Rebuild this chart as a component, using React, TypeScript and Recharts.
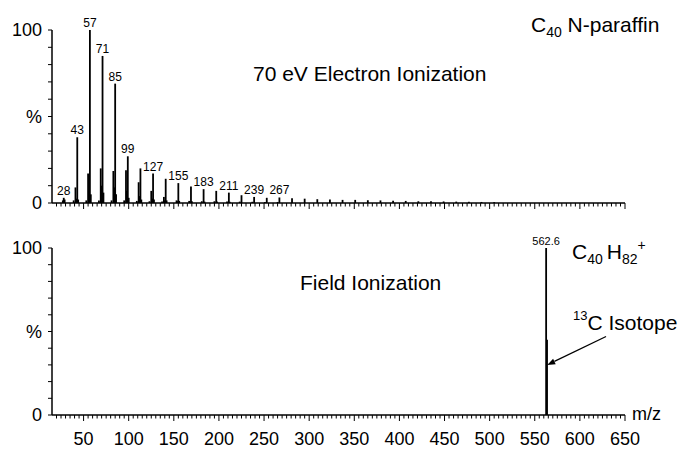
import React from 'react'
import { ComposedChart, Scatter, ErrorBar, XAxis, YAxis, ReferenceLine } from 'recharts'

// 70 eV EI spectrum (m/z, relative intensity %)
const eiMz = [
  27, 28, 29,
  39, 41, 42, 43, 44,
  53, 55, 56, 57, 58,
  67, 69, 70, 71, 72,
  81, 83, 84, 85, 86,
  95, 97, 98, 99, 100,
  109, 111, 112, 113, 114,
  123, 125, 126, 127, 128,
  137, 139, 140, 141, 142,
  153, 154, 155, 156,
  167, 169, 170,
  181, 183, 184,
  195, 197, 198,
  209, 211, 212,
  223, 225,
  237, 239,
  251, 253,
  265, 267,
  281, 295, 309, 323, 337, 351, 365, 379, 393, 407, 421, 435, 449, 463, 477, 491, 505
]
const eiIntensity = [
  1.5, 3, 2,
  1.5, 9, 2.5, 38, 2,
  1.5, 17, 7, 100, 5,
  1.5, 20, 10, 85, 6,
  1.5, 18.5, 9, 69, 5,
  1.5, 19, 7, 27, 3,
  1.2, 12, 4, 20, 2,
  1, 7, 2.5, 17, 2,
  0.8, 3.5, 1.5, 14, 1.5,
  1.5, 1, 11.5, 1.2,
  1.2, 9.5, 1,
  1, 8, 0.8,
  1, 7, 0.8,
  0.8, 6, 0.7,
  0.8, 4.5,
  0.7, 3.5,
  0.6, 3,
  0.6, 3.2,
  2.8, 2.5, 2.2, 2, 1.8, 1.8, 1.6, 1.5, 1.3, 1.2, 1, 1, 0.9, 0.8, 0.7, 0.6, 0.5
]
const eiLabelled = [28, 43, 57, 71, 85, 99, 127, 155, 183, 211, 239, 267]

// Field ionization spectrum
const fiMz = [562.6, 563.6]
const fiIntensity = [100, 45]
const fiLabelled = [562.6]

const mzTickLabels = [50, 100, 150, 200, 250, 300, 350, 400, 450, 500, 550, 600, 650]
const yTicks = [0, 10, 20, 30, 40, 50, 60, 70, 80, 90, 100]
const yTickLabels: Record<number, string> = { 0: '0', 50: '%', 100: '100' }
const isotopeArrow = [{ x: 629, y: 47 }, { x: 563.8, y: 30 }]

const FONT = '"Liberation Sans", Arial, Helvetica, sans-serif'
const MZ_DOMAIN: [number, number] = [15, 650]

const mzTicks: number[] = []
for (let v = 20; v <= MZ_DOMAIN[1]; v += 5) mzTicks.push(v)

const toRows = (mz: number[], inten: number[], labelled: number[]) =>
  mz.map((m, i) => ({
    mz: m,
    i: inten[i],
    err: [inten[i], 0],
    label: labelled.includes(m) ? String(m) : undefined
  }))

const eiData = toRows(eiMz, eiIntensity, eiLabelled)
const fiData = toRows(fiMz, fiIntensity, fiLabelled)

const MzTick = (props: any) => {
  const { x, y, payload, withLabels } = props
  const v = payload.value
  const major = mzTickLabels.includes(v)
  return (
    <g>
      <line x1={x} x2={x} y1={y} y2={y + (major ? 6 : 3.5)} stroke="#000" strokeWidth={1} />
      {withLabels && major && (
        <text x={x} y={y + 30} textAnchor="middle" fontSize={18} fontFamily={FONT} fill="#000">{v}</text>
      )}
    </g>
  )
}

const PctTick = (props: any) => {
  const { x, y, payload } = props
  const lbl = yTickLabels[payload.value]
  return (
    <g>
      <line x1={x - 4} x2={x} y1={y} y2={y} stroke="#000" strokeWidth={1} />
      {lbl && (
        <text x={x - 10} y={y} dy="0.36em" textAnchor="end" fontSize={18} fontFamily={FONT} fill="#000">{lbl}</text>
      )}
    </g>
  )
}

const PeakLabel = (size: number) => (p: any) =>
  p.payload && p.payload.label ? (
    <text x={p.cx} y={p.cy - 3} textAnchor="middle" fontSize={size} fontFamily={FONT} fill="#000">{p.payload.label}</text>
  ) : <g />

const ArrowShape = (p: any) => {
  const { x1, y1, x2, y2 } = p
  const ang = Math.atan2(y2 - y1, x2 - x1)
  const len = 8, half = 3
  const bx = x2 - len * Math.cos(ang), by = y2 - len * Math.sin(ang)
  const px = -Math.sin(ang) * half, py = Math.cos(ang) * half
  return (
    <g>
      <line x1={x1} y1={y1} x2={bx} y2={by} stroke="#000" strokeWidth={1.3} />
      <polygon points={`${x2},${y2} ${bx + px},${by + py} ${bx - px},${by - py}`} fill="#000" />
    </g>
  )
}

function Panel({ data, height, top, xHeight, labels, labelSize, children }: any) {
  return (
    <ComposedChart width={679} height={height} data={data} margin={{ top, right: 54, bottom: 0, left: 0 }}>
      <XAxis
        type="number" dataKey="mz" domain={MZ_DOMAIN} ticks={mzTicks} interval={0}
        tickSize={0} tickMargin={0} height={xHeight}
        axisLine={{ stroke: '#000', strokeWidth: 1.5 }}
        tick={(p: any) => <MzTick {...p} withLabels={labels} />}
      />
      <YAxis
        type="number" dataKey="i" domain={[0, 100]} ticks={yTicks} interval={0} width={52}
        tickSize={0} tickMargin={0}
        axisLine={{ stroke: '#000', strokeWidth: 1.5 }}
        tick={PctTick}
      />
      <Scatter dataKey="i" isAnimationActive={false} shape={PeakLabel(labelSize)}>
        <ErrorBar dataKey="err" direction="y" width={0} stroke="#000" strokeWidth={1.8} isAnimationActive={false} />
      </Scatter>
      {children}
    </ComposedChart>
  )
}

export default function App() {
  return (
    <div style={{ position: 'absolute', left: 0, top: 0, width: 679, height: 449, background: '#fff', fontFamily: FONT }}>
      <div style={{ position: 'absolute', left: 0, top: 0 }}>
        <Panel data={eiData} height={220} top={30} xHeight={17} labels={false} labelSize={12} />
      </div>
      <div style={{ position: 'absolute', left: 0, top: 220 }}>
        <Panel data={fiData} height={229} top={28} xHeight={34} labels labelSize={11}>
          <ReferenceLine segment={isotopeArrow} shape={ArrowShape} ifOverflow="visible" />
        </Panel>
      </div>
      <svg width={679} height={449} style={{ position: 'absolute', left: 0, top: 0, pointerEvents: 'none' }} fontFamily={FONT} fill="#000">
        <text x={531} y={32} fontSize={21}>
          C<tspan fontSize={14} dy={5}>40</tspan><tspan dy={-5}> N-paraffin</tspan>
        </text>
        <text x={253} y={81} fontSize={21}>70 eV Electron Ionization</text>
        <text x={300} y={290} fontSize={21}>Field Ionization</text>
        <text x={572} y={259} fontSize={21}>
          C<tspan fontSize={14} dy={5}>40</tspan><tspan dy={-5} dx={4}>H</tspan><tspan fontSize={14} dy={5}>82</tspan><tspan fontSize={14} dy={-14}>+</tspan>
        </text>
        <text x={573} y={330} fontSize={21}>
          <tspan fontSize={13} dy={-10}>13</tspan><tspan dy={10}>C Isotope</tspan>
        </text>
        <text x={632} y={420} fontSize={18}>m/z</text>
      </svg>
    </div>
  )
}
